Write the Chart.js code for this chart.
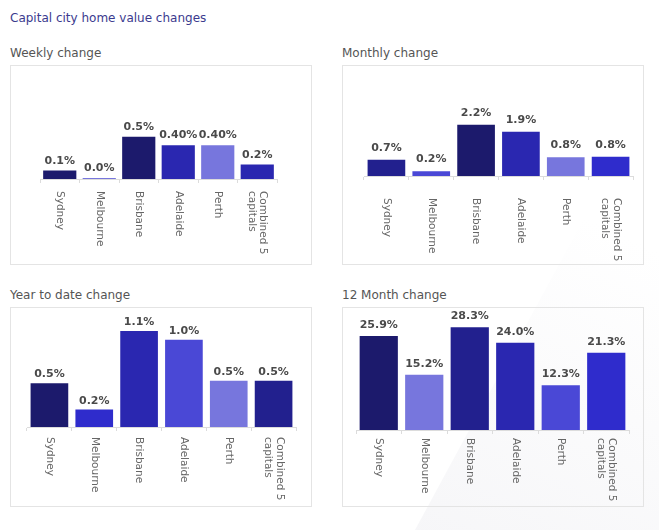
<!DOCTYPE html>
<html>
<head>
<meta charset="utf-8">
<script src="https://cdn.jsdelivr.net/npm/chart.js@4.4.0/dist/chart.umd.min.js"></script>
<style>
  body { margin:0; width:659px; height:530px; background:#fff; position:relative; overflow:hidden; font-family:"DejaVu Sans", sans-serif; }
  .shade { position:absolute; left:0; top:0; width:659px; height:530px;
           background:linear-gradient(205deg, #ffffff 30%, #f2f2f5 100%);
           clip-path:polygon(659px 80px, 659px 530px, 415px 530px); }
  .title { position:absolute; left:10px; top:11px; font-size:12px; color:#3b3a8e; }
  .sub { position:absolute; font-size:12px; color:#555; }
  .box { position:absolute; width:300px; height:198px; border:1px solid #e4e4e4; }
</style>
</head>
<body>
<div class="shade"></div>
<div class="title">Capital city home value changes</div>

<div class="sub" style="left:10px;top:46px">Weekly change</div>
<div class="box" style="left:10px;top:65px"><canvas id="weekly" width="300" height="198"></canvas></div>

<div class="sub" style="left:342px;top:46px">Monthly change</div>
<div class="box" style="left:342px;top:65px"><canvas id="monthly" width="300" height="198"></canvas></div>

<div class="sub" style="left:10px;top:288px">Year to date change</div>
<div class="box" style="left:10px;top:307px"><canvas id="ytd" width="300" height="198"></canvas></div>

<div class="sub" style="left:342px;top:288px">12 Month change</div>
<div class="box" style="left:342px;top:307px"><canvas id="annual" width="300" height="198"></canvas></div>

<script>
    // categories (multi-line label as array)
    const cities = ['Sydney', 'Melbourne', 'Brisbane', 'Adelaide', 'Perth', ['Combined 5', 'capitals']];

    // values, labels as printed
    const weeklyValues = [0.1, 0.0, 0.5, 0.4, 0.4, 0.17];
    const weeklyText = ['0.1%', '0.0%', '0.5%', '0.40%', '0.40%', '0.2%'];

    const monthlyValues = [0.7, 0.2, 2.2, 1.9, 0.8, 0.83];
    const monthlyText = ['0.7%', '0.2%', '2.2%', '1.9%', '0.8%', '0.8%'];

    const ytdValues = [0.5, 0.2, 1.1, 1.0, 0.53, 0.53];
    const ytdText = ['0.5%', '0.2%', '1.1%', '1.0%', '0.5%', '0.5%'];

    const annualValues = [25.9, 15.2, 28.3, 24.0, 12.3, 21.3];
    const annualText = ['25.9%', '15.2%', '28.3%', '24.0%', '12.3%', '21.3%'];

    // palette
    const c1 = '#1c1a6c', c2 = '#22208e', c3 = '#2a27b0', c4 = '#2f2ccc', c5 = '#4a48d6', c6 = '#7776dd';

    const barText = {
        id: 'barText',
        afterDatasetsDraw(chart, args, opts) {
            const ctx = chart.ctx;
            const meta = chart.getDatasetMeta(0);
            ctx.save();
            ctx.font = 'bold 11px "DejaVu Sans"';
            ctx.fillStyle = '#4a4a4a';
            ctx.textAlign = 'center';
            ctx.textBaseline = 'alphabetic';
            meta.data.forEach((bar, i) => ctx.fillText(opts.text[i], bar.x, bar.y - opts.gap));

            // rotated category labels, reading top to bottom
            const xs = chart.scales.x;
            ctx.font = '10.5px "DejaVu Sans"';
            ctx.fillStyle = '#666';
            ctx.textAlign = 'left';
            ctx.textBaseline = 'middle';
            chart.data.labels.forEach((lab, i) => {
                const lines = [].concat(lab);
                ctx.save();
                ctx.translate(xs.getPixelForTick(i), xs.top + opts.labelGap);
                ctx.rotate(Math.PI / 2);
                lines.forEach((ln, j) => ctx.fillText(ln, 0, (j - (lines.length - 1) / 2) * 11.5));
                ctx.restore();
            });
            ctx.restore();
        }
    };

    function makeChart(id, values, text, colors, cfg) {
        return new Chart(document.getElementById(id).getContext('2d'), {
            type: 'bar',
            data: {
                labels: cities,
                datasets: [{
                    data: values,
                    backgroundColor: colors,
                    borderWidth: 0,
                    minBarLength: 1,
                    categoryPercentage: 1,
                    barPercentage: 0.84
                }]
            },
            options: {
                responsive: false,
                animation: false,
                devicePixelRatio: 1,
                layout: { padding: cfg.padding },
                plugins: {
                    legend: { display: false },
                    tooltip: { enabled: false },
                    barText: { text: text, gap: cfg.gap, labelGap: cfg.labelGap }
                },
                scales: {
                    x: {
                        grid: { offset: true, drawOnChartArea: false, drawTicks: true, tickLength: 4, color: '#dcdcdc' },
                        border: { display: true, color: '#dcdcdc' },
                        ticks: { display: false }
                    },
                    y: { display: false, min: 0, max: cfg.max }
                }
            },
            plugins: [barText]
        });
    }

    makeChart('weekly', weeklyValues, weeklyText, [c1, c6, c1, c3, c6, c3],
        { max: 1.336, gap: 7, labelGap: 12, padding: { left: 29, right: 34, top: 0, bottom: 81 } });
    makeChart('monthly', monthlyValues, monthlyText, [c2, c5, c1, c3, c6, c4],
        { max: 4.72, gap: 9, labelGap: 22, padding: { left: 21, right: 10, top: 0, bottom: 84 } });
    makeChart('ytd', ytdValues, ytdText, [c1, c4, c3, c5, c6, c2],
        { max: 1.362, gap: 6, labelGap: 10, padding: { left: 16, right: 15, top: 0, bottom: 75 } });
    makeChart('annual', annualValues, annualText, [c1, c6, c2, c3, c5, c4],
        { max: 33.6, gap: 8, labelGap: 8, padding: { left: 13, right: 14, top: 0, bottom: 72 } });
</script>
</body>
</html>
